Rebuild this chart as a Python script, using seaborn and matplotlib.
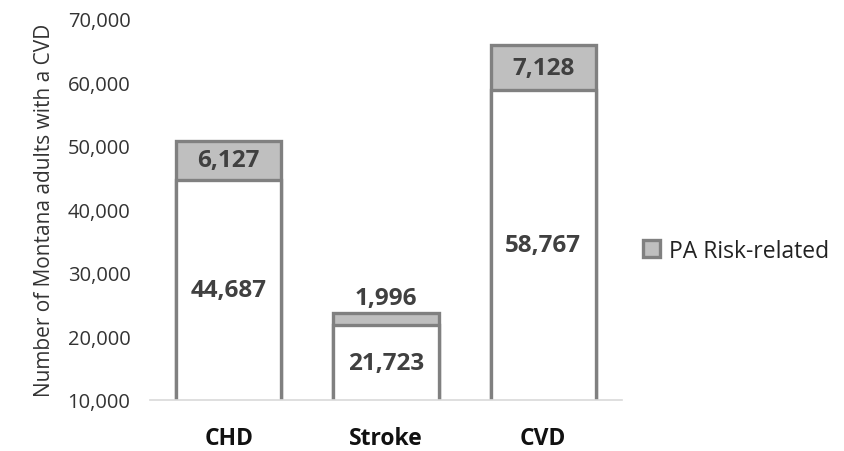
import matplotlib
matplotlib.use("Agg")
import matplotlib.pyplot as plt
import seaborn as sns
import pandas as pd
from matplotlib.patches import Patch

categories = ["CHD", "Stroke", "CVD"]
base_values = [44687, 21723, 58767]
pa_values = [6127, 1996, 7128]
y_ticks = [10000, 20000, 30000, 40000, 50000, 60000, 70000]

sns.set_theme(style="white")
plt.rcParams['font.family'] = ['Open Sans', 'DejaVu Sans']

totals = [b + p for b, p in zip(base_values, pa_values)]
df = pd.DataFrame({"cat": categories, "base": base_values, "pa": pa_values, "total": totals})

fig = plt.figure(figsize=(8.45, 4.52), dpi=100)
ax = fig.add_axes([0.1775, 0.113, 0.736 - 0.1775, 0.956 - 0.113])

edge = "#808080"
sns.barplot(data=df, x="cat", y="total", color="#bfbfbf", edgecolor=edge,
            linewidth=2.4, width=0.67, saturation=1, ax=ax, zorder=2)
sns.barplot(data=df, x="cat", y="base", color="white", edgecolor=edge,
            linewidth=2.4, width=0.67, saturation=1, ax=ax, zorder=3)

ax.set_ylim(10000, 70000)
ax.set_xlim(-0.5, 2.5)
ax.set_yticks(y_ticks)
ax.set_yticklabels([f"{v:,}" for v in y_ticks], fontsize=14.5, color="#333333")
ax.tick_params(axis="y", length=0, pad=14)
ax.tick_params(axis="x", length=0, pad=19)
for lbl in ax.get_xticklabels():
    lbl.set_fontweight("bold")
    lbl.set_fontsize(16.5)
    lbl.set_color("#111111")
ax.set_xlabel("")
ax.set_ylabel("Number of Montana adults with a CVD", fontsize=15, color="#333333", labelpad=9)

for s in ["top", "right", "left"]:
    ax.spines[s].set_visible(False)
ax.spines["bottom"].set_color("#d9d9d9")
ax.spines["bottom"].set_linewidth(1.2)
ax.spines["bottom"].set_zorder(4)

lab_col = "#404040"
for i, (b, p) in enumerate(zip(base_values, pa_values)):
    ax.text(i, (10000 + b) / 2, f"{b:,}", ha="center", va="center",
            fontsize=17.5, fontweight="bold", color=lab_col, zorder=5)
    if p < 3000:
        ax.text(i, b + p + 400, f"{p:,}", ha="center", va="bottom",
                fontsize=17.5, fontweight="bold", color=lab_col, zorder=5)
    else:
        ax.text(i, b + p / 2, f"{p:,}", ha="center", va="center",
                fontsize=17.5, fontweight="bold", color=lab_col, zorder=5)

handle = Patch(facecolor="#bfbfbf", edgecolor=edge, linewidth=2.4)
fig.legend([handle], ["PA Risk-related"], loc="center left",
           bbox_to_anchor=(0.742, 0.443), frameon=False, fontsize=16.5,
           handlelength=0.75, handleheight=0.75, handletextpad=0.4,
           borderpad=0.2, labelcolor="#222222")

fig.savefig("out.png", dpi=100)
